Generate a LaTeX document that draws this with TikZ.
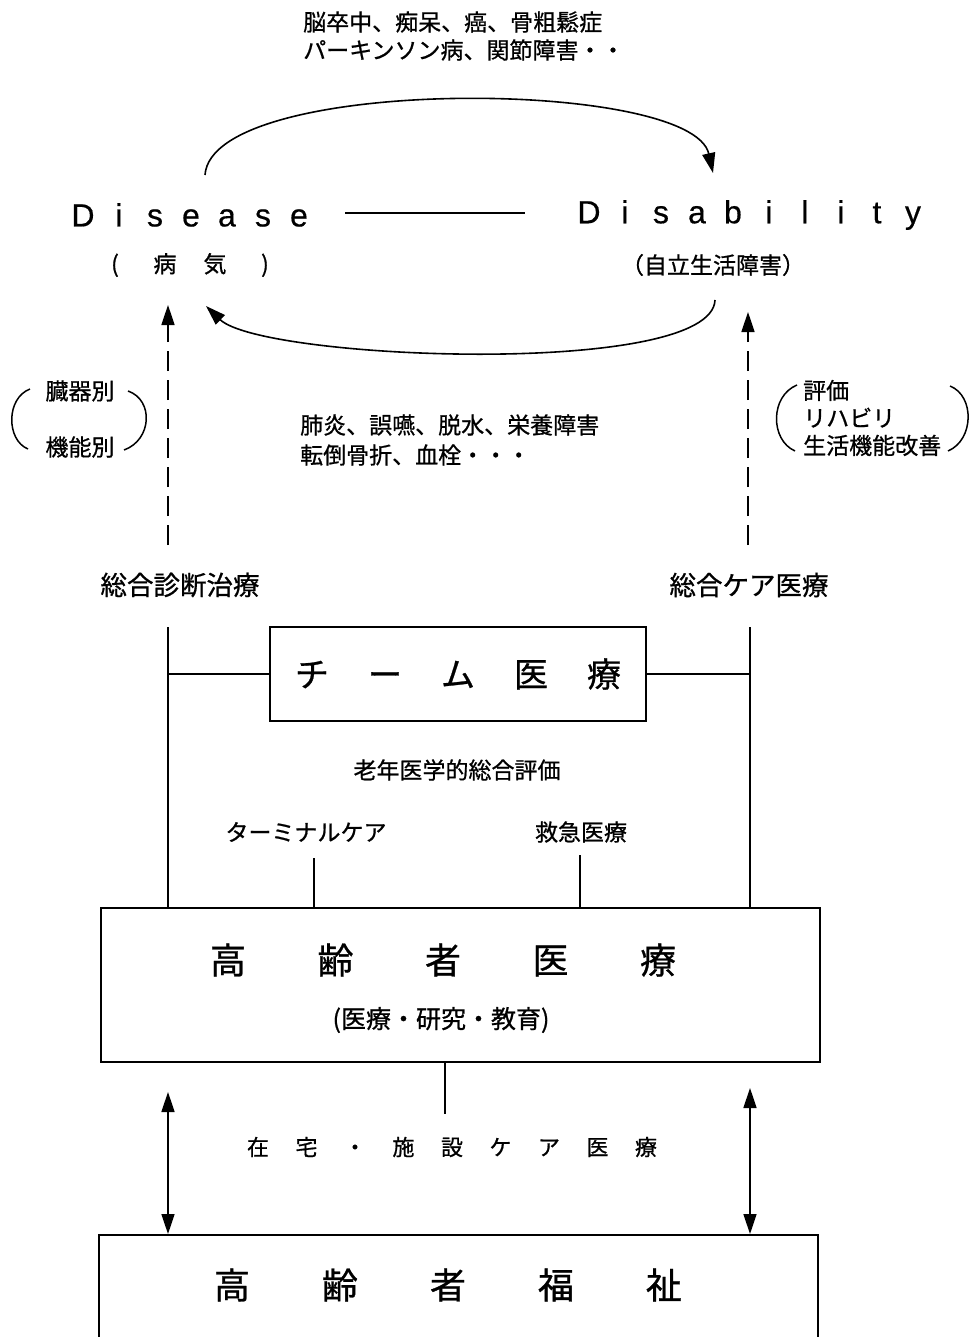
\documentclass[tikz,border=0pt]{standalone}
\usepackage{fontspec}
\setmainfont{Liberation Sans}
\newfontfamily\jp[FakeBold=0.8]{Noto Sans CJK JP}
\newfontfamily\latf[FakeBold=0.5]{Liberation Sans}
\usetikzlibrary{arrows.meta}
\newcommand\lsp[2]{\makebox[#1pt]{#2}}
\begin{document}
\begin{tikzpicture}[x=1pt,y=-1pt,
  ln/.style={line width=1.6pt},
  tipA/.style={-{Triangle[length=20pt,width=13pt]}},
  tipB/.style={{Triangle[length=20pt,width=13pt]}-{Triangle[length=20pt,width=13pt]}},
  jt/.style={font=\jp\fontsize{23}{27.5}\selectfont, inner sep=0pt},
  lat/.style={font=\latf\fontsize{32}{36}\selectfont, inner sep=0pt},
  boxn/.style={draw, line width=1.6pt, inner sep=0pt}]
\clip (0,0) rectangle (972,1337);
\fill[white] (0,0) rectangle (972,1337);

% top texts
\node[jt, anchor=west] (top1) at (303,22) {脳卒中、痴呆、癌、骨粗鬆症};
\node[jt, anchor=west] (top2) at (303,50) {パーキンソン病、関節障害・・};

% Disease / Disability
\node[lat] (dis) at (191,215) {\lsp{36}{D}\lsp{36}{i}\lsp{36}{s}\lsp{36}{e}\lsp{36}{a}\lsp{36}{s}\lsp{36}{e}};
\node[lat] (disab) at (751,215) {\lsp{36}{D}\lsp{36}{i}\lsp{36}{s}\lsp{36}{a}\lsp{36}{b}\lsp{36}{i}\lsp{36}{l}\lsp{36}{i}\lsp{36}{t}\lsp{36}{y}};
\node[jt] (byoki) at (190,265) {\lsp{50}{(}\lsp{50}{病}\lsp{50}{気}\lsp{50}{)}};
\node[jt] (jiritsu) at (713,265) {（自立生活障害）};

\coordinate (m1) at (345,213);
\coordinate (m2) at (525,213);
\draw[ln] (m1) -- (m2);

% arcs
\coordinate (a1) at (205,175);
\coordinate (a2) at (713,173);
\draw[ln, tipA] (a1) .. controls (212,75) and (692,78) .. (a2);
\coordinate (b1) at (715,300);
\coordinate (b2) at (206,306);
\draw[ln, tipA] (b1) .. controls (712,378) and (262,360) .. (b2);

% middle text
\node[jt, anchor=west] (mid1) at (300,425) {肺炎、誤嚥、脱水、栄養障害};
\node[jt, anchor=west] (mid2) at (300,455) {転倒骨折、血栓・・・};

% dashed arrows
\coordinate (dl0) at (168,545);
\coordinate (dl1) at (168,305);
\draw[ln, tipA, dash pattern=on 20pt off 9pt] (dl0) -- (dl1);
\coordinate (dr0) at (748,545);
\coordinate (dr1) at (748,312);
\draw[ln, tipA, dash pattern=on 20pt off 9pt] (dr0) -- (dr1);

% left bracket group
\node[jt] (zoki) at (80,391) {臓器別};
\node[jt] (kino) at (80,447) {機能別};
\draw[line width=1.5pt] (30,389) .. controls (6,398) and (6,440) .. (28,449);
\draw[line width=1.5pt] (128,391) .. controls (154,400) and (152,440) .. (124,450);

% right bracket group
\node[jt, align=left, anchor=west] (hyoka) at (803,418) {評価\\リハビリ\\生活機能改善};
\draw[line width=1.5pt] (797,385) .. controls (770,396) and (770,440) .. (795,451);
\draw[line width=1.5pt] (950,386) .. controls (975,396) and (974,440) .. (948,451);

% labels
\node[font=\jp\fontsize{26.5}{30}\selectfont, inner sep=0pt] (sogo1) at (180,585) {総合診断治療};
\node[font=\jp\fontsize{26.5}{30}\selectfont, inner sep=0pt] (sogo2) at (749,585) {総合ケア医療};

% team box
\node[boxn, minimum width=376pt, minimum height=94pt, font=\jp\fontsize{34}{38}\selectfont] (team) at (458,674)
  {\lsp{73}{チ}\lsp{73}{ー}\lsp{73}{ム}\lsp{73}{医}\lsp{73}{療}};

\coordinate (vl0) at (168,627);
\coordinate (vr0) at (750,627);

% main box
\node[boxn, minimum width=719pt, minimum height=154pt] (iryo) at (460.5,985) {};
\node[inner sep=0pt, font=\jp\fontsize{36}{40}\selectfont] (iryot) at (443,960)
  {\lsp{107.5}{高}\lsp{107.5}{齢}\lsp{107.5}{者}\lsp{107.5}{医}\lsp{107.5}{療}};
\node[inner sep=0pt, font=\jp\fontsize{25}{28}\selectfont] (iryos) at (441,1020) {(医療・研究・教育)};

\draw[ln] (vl0) -- (vl0 |- iryo.north);
\draw[ln] (vr0) -- (vr0 |- iryo.north);
\draw[ln] (vl0 |- team.west) -- (team.west);
\draw[ln] (team.east) -- (vr0 |- team.east);

\node[jt] (ronen) at (457,770) {老年医学的総合評価};
\node[jt] (term) at (306,832) {ターミナルケア};
\node[jt] (kyukyu) at (581,832) {救急医療};
\coordinate (t0) at (314,858);
\coordinate (k0) at (580,855);
\draw[ln] (t0) -- (t0 |- iryo.north);
\draw[ln] (k0) -- (k0 |- iryo.north);

% bottom
\coordinate (c1) at (445,1114);
\draw[ln] (iryo.south -| c1) -- (c1);
\node[inner sep=0pt, font=\jp\fontsize{22}{26}\selectfont] (zaitaku) at (452,1147)
  {\lsp{48.5}{在}\lsp{48.5}{宅}\lsp{48.5}{・}\lsp{48.5}{施}\lsp{48.5}{設}\lsp{48.5}{ケ}\lsp{48.5}{ア}\lsp{48.5}{医}\lsp{48.5}{療}};

\node[boxn, minimum width=719pt, minimum height=140pt, anchor=north] (fukushi) at (458.5,1234) {};
\node[inner sep=0pt, font=\jp\fontsize{36}{40}\selectfont] (fukut) at (448,1285)
  {\lsp{108}{高}\lsp{108}{齢}\lsp{108}{者}\lsp{108}{福}\lsp{108}{祉}};

\coordinate (dbl0) at (168,1092);
\coordinate (dbr0) at (750,1088);
\draw[ln, tipB] (dbl0) -- (dbl0 |- fukushi.north);
\draw[ln, tipB] (dbr0) -- (dbr0 |- fukushi.north);
\end{tikzpicture}
\end{document}
